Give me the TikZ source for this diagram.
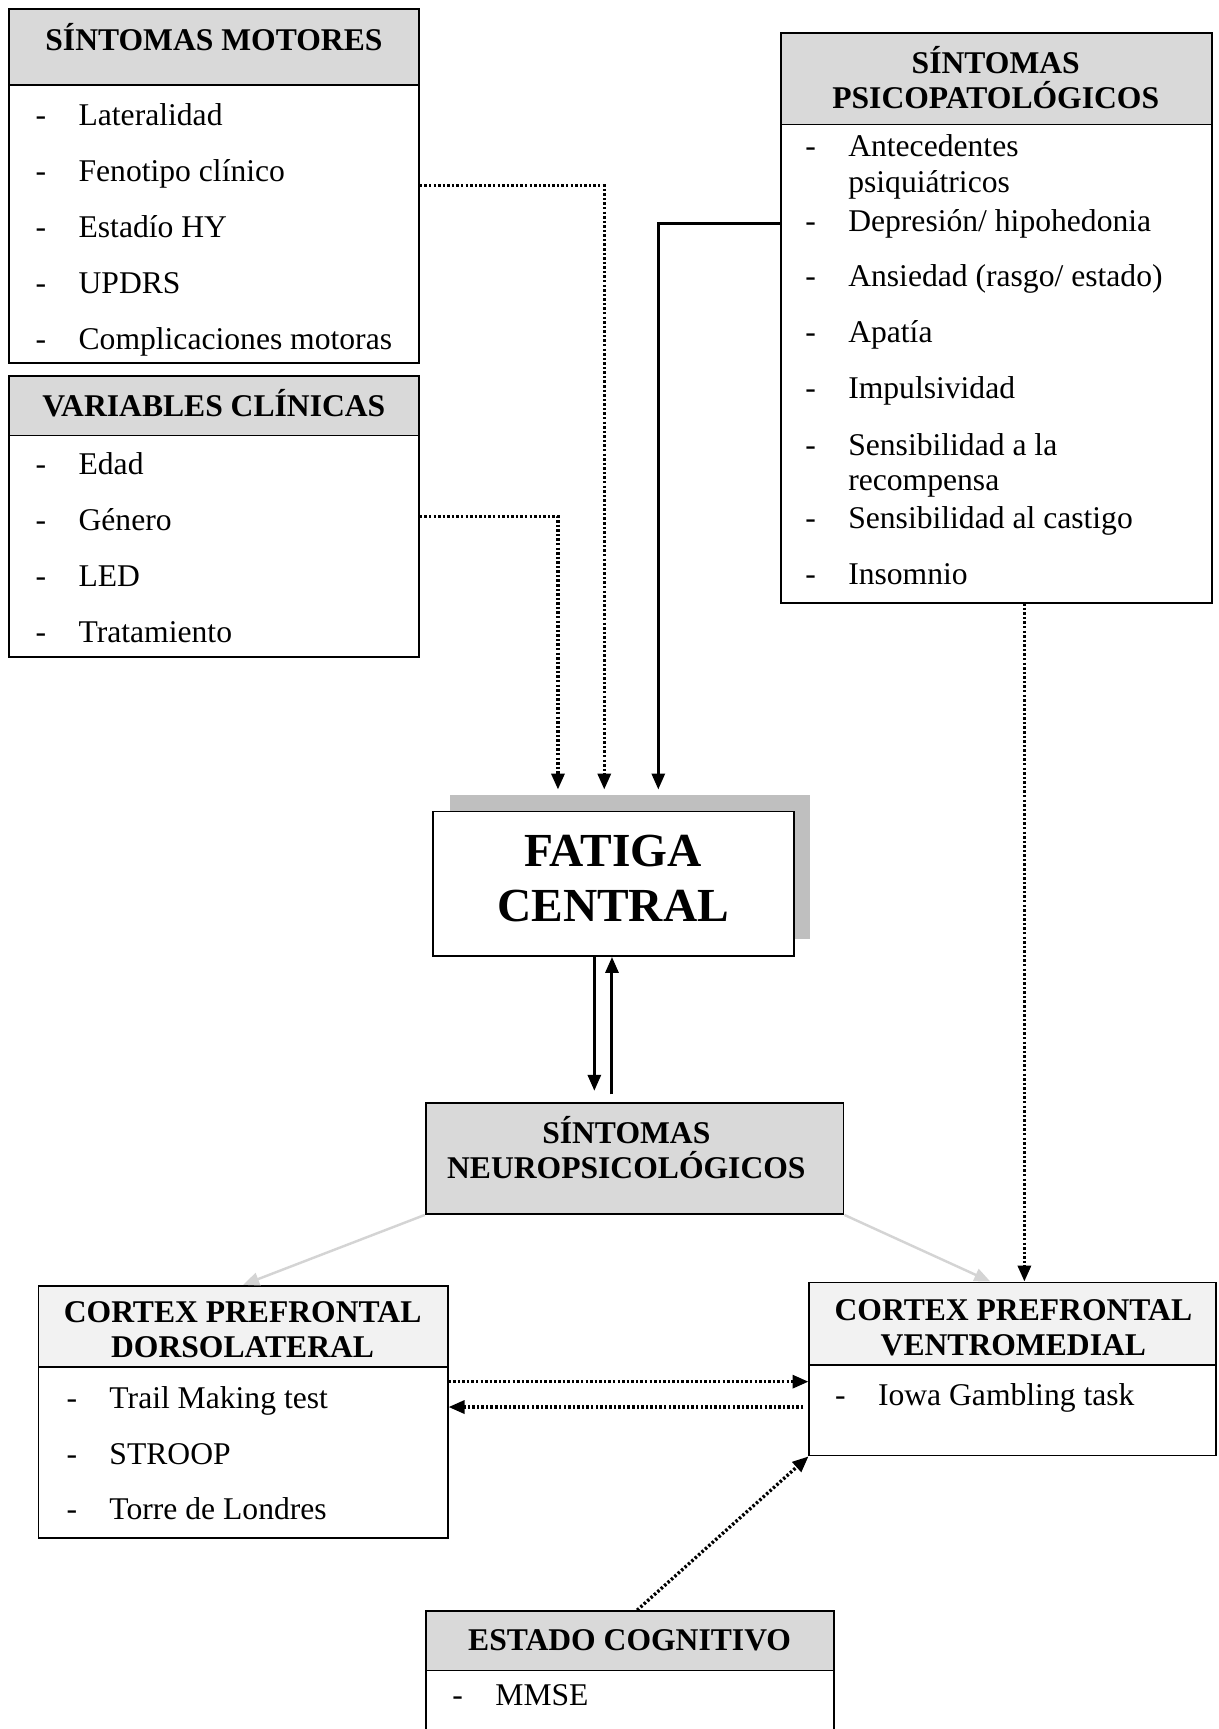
\documentclass[tikz,border=0pt]{standalone}
\usepackage{fontspec}
\setmainfont{Liberation Serif}
\usepackage{xcolor}
\usetikzlibrary{fit}
\usetikzlibrary{arrows.meta}
\definecolor{headgray}{HTML}{D9D9D9}
\definecolor{palegray}{HTML}{F2F2F2}
\definecolor{shadegray}{HTML}{BFBFBF}
\definecolor{linkgray}{HTML}{D4D4D4}
\newcommand{\itm}[1]{\makebox[8.6mm][l]{-}#1}
\tikzset{box/.style={draw, line width=1pt, inner sep=0pt},
 head/.style={box, fill=headgray},
 palehead/.style={box, fill=palegray},
 title/.style={font=\bfseries\fontsize{18}{20}\selectfont, align=center, inner sep=0pt},
 entry/.style={anchor=base west, inner sep=0pt, font=\fontsize{18}{20}\selectfont},
 link/.style={line width=1.7pt, -{Triangle[length=3.2mm,width=2.6mm]}},
 dotlink/.style={link, line width=1.9pt, dash pattern=on 1.4pt off 1.2pt},
 greylink/.style={link, draw=linkgray, line width=1.4pt},
 }

\begin{document}
\begin{tikzpicture}[x=0.22064mm, y=-0.22064mm]
        \useasboundingbox (0,0) rectangle (1105,1568);
        % sintomas motores
        \node[box, fit={(8,8) (380,329)}] (motbox) {};
        \node[head, fit={(8,8) (380,77)}] (mothead) {};
        \node[title, anchor=base] (mottitle) at (194,45.5) {SÍNTOMAS MOTORES};
        \node[entry] (m1) at (32,114) {\itm{Lateralidad}};
        \node[entry] (m2) at (32,165) {\itm{Fenotipo clínico}};
        \node[entry] (m3) at (32,215) {\itm{Estadío HY}};
        \node[entry] (m4) at (32,266) {\itm{UPDRS}};
        \node[entry] (m5) at (32,317) {\itm{Complicaciones motoras}};
        % variables clinicas
        \node[box, fit={(8,341) (380,596)}] (varbox) {};
        \node[head, fit={(8,341) (380,395)}] (varhead) {};
        \node[title, anchor=base] (vartitle) at (194,378) {VARIABLES CLÍNICAS};
        \node[entry] (v1) at (32,430) {\itm{Edad}};
        \node[entry] (v2) at (32,481) {\itm{Género}};
        \node[entry] (v3) at (32,532) {\itm{LED}};
        \node[entry] (v4) at (32,583) {\itm{Tratamiento}};
        % sintomas psicopatologicos
        \node[box, fit={(708,30) (1099,547)}] (psibox) {};
        \node[head, fit={(708,30) (1099,113)}] (psihead) {};
        \node[title] (psititle) at (903,70) {SÍNTOMAS\\PSICOPATOLÓGICOS};
        \node[entry] (p1) at (730,142) {\itm{Antecedentes}};
        \node[entry] (p2) at (769,175) {psiquiátricos};
        \node[entry] (p3) at (730,210) {\itm{Depresión/ hipohedonia}};
        \node[entry] (p4) at (730,260) {\itm{Ansiedad (rasgo/ estado)}};
        \node[entry] (p5) at (730,311) {\itm{Apatía}};
        \node[entry] (p6) at (730,361) {\itm{Impulsividad}};
        \node[entry] (p7) at (730,413) {\itm{Sensibilidad a la}};
        \node[entry] (p8) at (769,445) {recompensa};
        \node[entry] (p9) at (730,479) {\itm{Sensibilidad al castigo}};
        \node[entry] (p10) at (730,530) {\itm{Insomnio}};
        % fatiga central
        \node[fill=shadegray, inner sep=0pt, fit={(408,721) (735,852)}] (fatshade) {};
        \node[box, fill=white, fit={(393,736) (720,867)}] (fatiga) {};
        \node[font=\bfseries\fontsize{27}{31.4}\selectfont, align=center, inner sep=0pt] (fattext) at (556,797) {FATIGA\\CENTRAL};
        % sintomas neuropsicologicos
        \node[head, fit={(386,1000) (765,1101)}] (neuro) {};
        \node[title] (neurotitle) at (568,1041) {SÍNTOMAS\\NEUROPSICOLÓGICOS};
        % cortex prefrontal dorsolateral
        \node[box, fit={(35,1166) (406,1395)}] (dlbox) {};
        \node[palehead, fit={(35,1166) (406,1240)}] (dlhead) {};
        \node[title] (dltitle) at (220,1206) {CORTEX PREFRONTAL\\DORSOLATERAL};
        \node[entry] (d1) at (60,1277) {\itm{Trail Making test}};
        \node[entry] (d2) at (60,1328) {\itm{STROOP}};
        \node[entry] (d3) at (60,1378) {\itm{Torre de Londres}};
        % cortex prefrontal ventromedial
        \node[box, fit={(734,1163) (1103,1320)}] (vmbox) {};
        \node[palehead, fit={(734,1163) (1103,1238)}] (vmhead) {};
        \node[title] (vmtitle) at (919,1204) {CORTEX PREFRONTAL\\VENTROMEDIAL};
        \node[entry] (w1) at (757,1275) {\itm{Iowa Gambling task}};
        % estado cognitivo
        \node[box, fit={(386,1461) (756,1600)}] (estbox) {};
        \node[head, fit={(386,1461) (756,1515)}] (esthead) {};
        \node[title, anchor=base] (esttitle) at (571,1497) {ESTADO COGNITIVO};
        \node[entry] (e1) at (410,1547) {\itm{MMSE}};
        % conexiones
        \coordinate (inV) at (506,716);
        \coordinate (inM) at (548,716);
        \coordinate (inP) at (597,716);
        \coordinate (pv) at (929,547);
        \coordinate (dv) at (0,1253);
        \coordinate (vd) at (0,1276);
        \coordinate (fd) at (539,0);
        \coordinate (fu) at (555,0);
        \draw[dotlink] (varbox.east) -| (inV);
        \draw[dotlink] (motbox.east) -| (inM);
        \draw[link] (psibox.west |- p3) -| (inP);
        \draw[link, shorten >=2.2mm] (fatiga.south -| fd) -- (neuro.north -| fd);
        \draw[link, shorten <=1.5mm] (neuro.north -| fu) -- (fatiga.south -| fu);
        \draw[greylink] (neuro.south west) -- (dlhead.north);
        \draw[greylink] (neuro.south east) -- ([xshift=-4.5mm]vmhead.north);
        \draw[dotlink] (pv) -- (pv |- vmhead.north);
        \draw[dotlink] (dlbox.east |- dv) -- (vmbox.west |- dv);
        \draw[dotlink, shorten <=1mm] (vmbox.west |- vd) -- (dlbox.east |- vd);
        \draw[dotlink] ([xshift=1.5mm]estbox.north) -- (vmbox.south west);
    \end{tikzpicture}
\end{document}
